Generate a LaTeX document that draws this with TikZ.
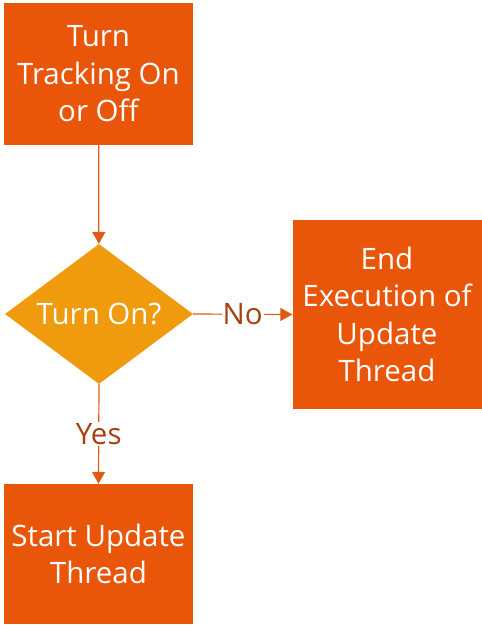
\documentclass[tikz,border=0pt]{standalone}
\usepackage{fontspec}
\setmainfont{Open Sans}
\usetikzlibrary{arrows.meta,shapes.geometric}
\definecolor{boxfill}{HTML}{E9560A}
\definecolor{decfill}{HTML}{F09A0E}
\definecolor{linecol}{HTML}{E05A10}
\definecolor{labelcol}{HTML}{A8400E}
\begin{document}
\begin{tikzpicture}[x=1pt,y=-1pt,
  stepbox/.style={rectangle,fill=boxfill,draw=none,text=white,align=center,
    minimum width=189pt,minimum height=#1,inner sep=0pt,
    font=\fontsize{29.5}{37.5}\selectfont},
  decision/.style={diamond,fill=decfill,draw=none,text=white,
    minimum width=188pt,minimum height=140pt,inner sep=0pt,aspect=1.343,
    font=\fontsize{29.5}{37.5}\selectfont},
  flow/.style={draw=linecol,line width=1.2pt,-{Triangle[width=13pt,length=12pt]}},
  lbl/.style={text=labelcol,fill=white,inner sep=1pt,font=\fontsize{29.5}{34}\selectfont}]
\useasboundingbox (0,0) rectangle (482,625);
\node[stepbox=142pt] (track) at (98.5,74) {Turn\\Tracking On\\or Off};
\node[decision] (ask) at (99,314) {Turn On?};
\node[stepbox=189pt] (stop) at (387,314.5) {End\\Execution of\\Update\\Thread};
\node[stepbox=140pt] (start) at (98.5,554) {Start Update\\Thread};
\draw[flow] (track) -- (ask);
\draw[flow] (ask.east) -- node[lbl] {No} (stop.west);
\draw[flow] (ask.south) -- node[lbl] {Yes} (start.north);
\end{tikzpicture}
\end{document}
